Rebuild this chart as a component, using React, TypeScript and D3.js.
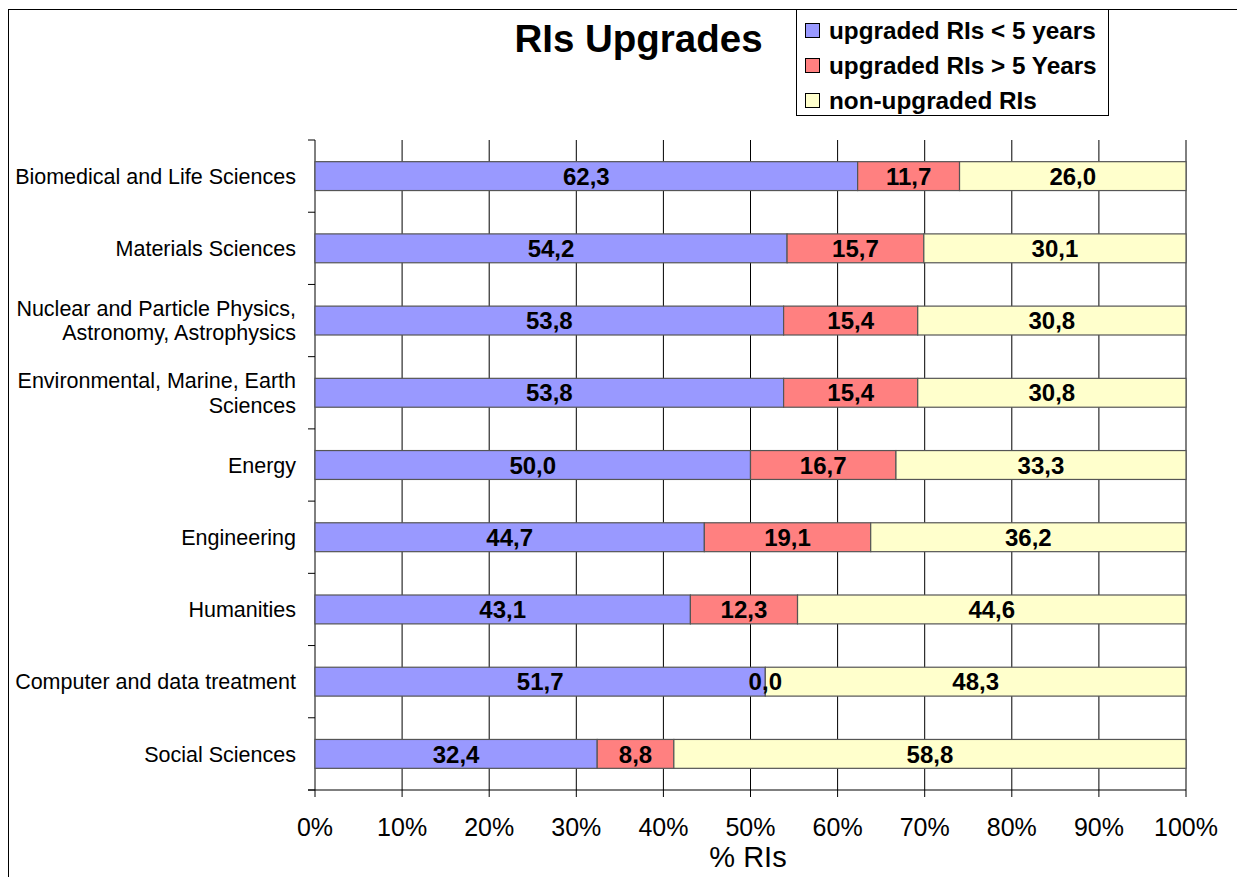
import React from "react";
import * as d3 from "d3";

const categories = [
  ["Biomedical and Life Sciences"],
  ["Materials Sciences"],
  ["Nuclear and Particle Physics,", "Astronomy, Astrophysics"],
  ["Environmental, Marine, Earth", "Sciences"],
  ["Energy"],
  ["Engineering"],
  ["Humanities"],
  ["Computer and data treatment"],
  ["Social Sciences"],
];
const upgradedLess5 = [62.3, 54.2, 53.8, 53.8, 50.0, 44.7, 43.1, 51.7, 32.4];
const upgradedMore5 = [11.7, 15.7, 15.4, 15.4, 16.7, 19.1, 12.3, 0.0, 8.8];
const nonUpgraded = [26.0, 30.1, 30.8, 30.8, 33.3, 36.2, 44.6, 48.3, 58.8];
const seriesNames = ["upgraded RIs < 5 years", "upgraded RIs > 5 Years", "non-upgraded RIs"];
const seriesColors = ["#9999FF", "#FF8080", "#FFFFCC"];
const xTicks = [0, 10, 20, 30, 40, 50, 60, 70, 80, 90, 100];

export default function App() {
  const W = 1237, H = 877;
  const x = d3.scaleLinear().domain([0, 100]).range([315, 1186]);
  const y = d3.scaleBand().domain(categories.map((_, i) => String(i))).range([140, 790]).paddingInner(0.6).paddingOuter(0.3);
  const bandStep = (790 - 140) / categories.length;
  const series = [upgradedLess5, upgradedMore5, nonUpgraded];
  const font = "Arial, 'Liberation Sans', sans-serif";
  const fmt = (v: number) => v.toFixed(1).replace(".", ",");

  return (
    <svg width={W} height={H} style={{ position: "absolute", left: 0, top: 0 }} fontFamily={font}>
      <rect x={0} y={0} width={W} height={H} fill="#fff" />
      <rect x={8.5} y={9.5} width={W + 10} height={H + 10} fill="none" stroke="#000" strokeWidth={1} />
      {/* gridlines */}
      {xTicks.map((t) => (
        <line key={"g" + t} x1={x(t)} x2={x(t)} y1={140} y2={797} stroke="#000" strokeWidth={1} />
      ))}
      {/* category ticks */}
      {d3.range(categories.length + 1).map((i) => (
        <line key={"ct" + i} x1={308} x2={315} y1={140 + i * bandStep} y2={140 + i * bandStep} stroke="#000" />
      ))}
      <line x1={308} x2={1186} y1={790} y2={790} stroke="#000" />
      {/* bars */}
      {categories.map((c, i) => {
        let acc = 0;
        const by = y(String(i))!;
        const bh = y.bandwidth();
        return (
          <g key={"b" + i}>
            {series.map((s, si) => {
              const v = s[i];
              const x0 = x(acc);
              acc += v;
              const x1 = x(acc);
              return (
                <rect key={si} x={x0} y={by} width={Math.max(0, x1 - x0)} height={bh} fill={seriesColors[si]} stroke="#555" strokeWidth={1.2} />
              );
            })}
          </g>
        );
      })}
      {/* labels */}
      {categories.map((c, i) => {
        let acc = 0;
        const cy = y(String(i))! + y.bandwidth() / 2;
        return (
          <g key={"l" + i}>
            {series.map((s, si) => {
              const v = s[i];
              const mid = x(acc + v / 2);
              acc += v;
              return (
                <text key={si} x={mid} y={cy} dy="0.36em" textAnchor="middle" fontWeight="bold" fontSize={24}>{fmt(v)}</text>
              );
            })}
          </g>
        );
      })}
      {/* category labels */}
      {categories.map((c, i) => {
        const cy = 140 + (i + 0.5) * bandStep;
        return (
          <text key={"c" + i} x={296} y={cy} textAnchor="end" fontSize={21.5}>
            {c.map((line, li) => (
              <tspan key={li} x={296} dy={li === 0 ? (c.length === 1 ? "0.36em" : `${0.36 - 0.56}em`) : "1.12em"}>{line}</tspan>
            ))}
          </text>
        );
      })}
      {/* x ticks */}
      {xTicks.map((t) => (
        <text key={"xt" + t} x={x(t)} y={836} textAnchor="middle" fontSize={25}>{t}%</text>
      ))}
      <text x={748} y={867} textAnchor="middle" fontSize={29}>% RIs</text>
      {/* title */}
      <text x={638.5} y={52} textAnchor="middle" fontWeight="bold" fontSize={38.5}>RIs Upgrades</text>
      {/* legend */}
      <rect x={796.5} y={9.5} width={312} height={106} fill="#fff" stroke="#000" />
      {seriesNames.map((n, i) => (
        <g key={"lg" + i}>
          <rect x={805.5} y={23.5 + i * 35} width={14} height={14} fill={seriesColors[i]} stroke="#000" />
          <text x={829} y={30.5 + i * 35} dy="0.36em" fontWeight="bold" fontSize={24.3}>{n}</text>
        </g>
      ))}
    </svg>
  );
}
